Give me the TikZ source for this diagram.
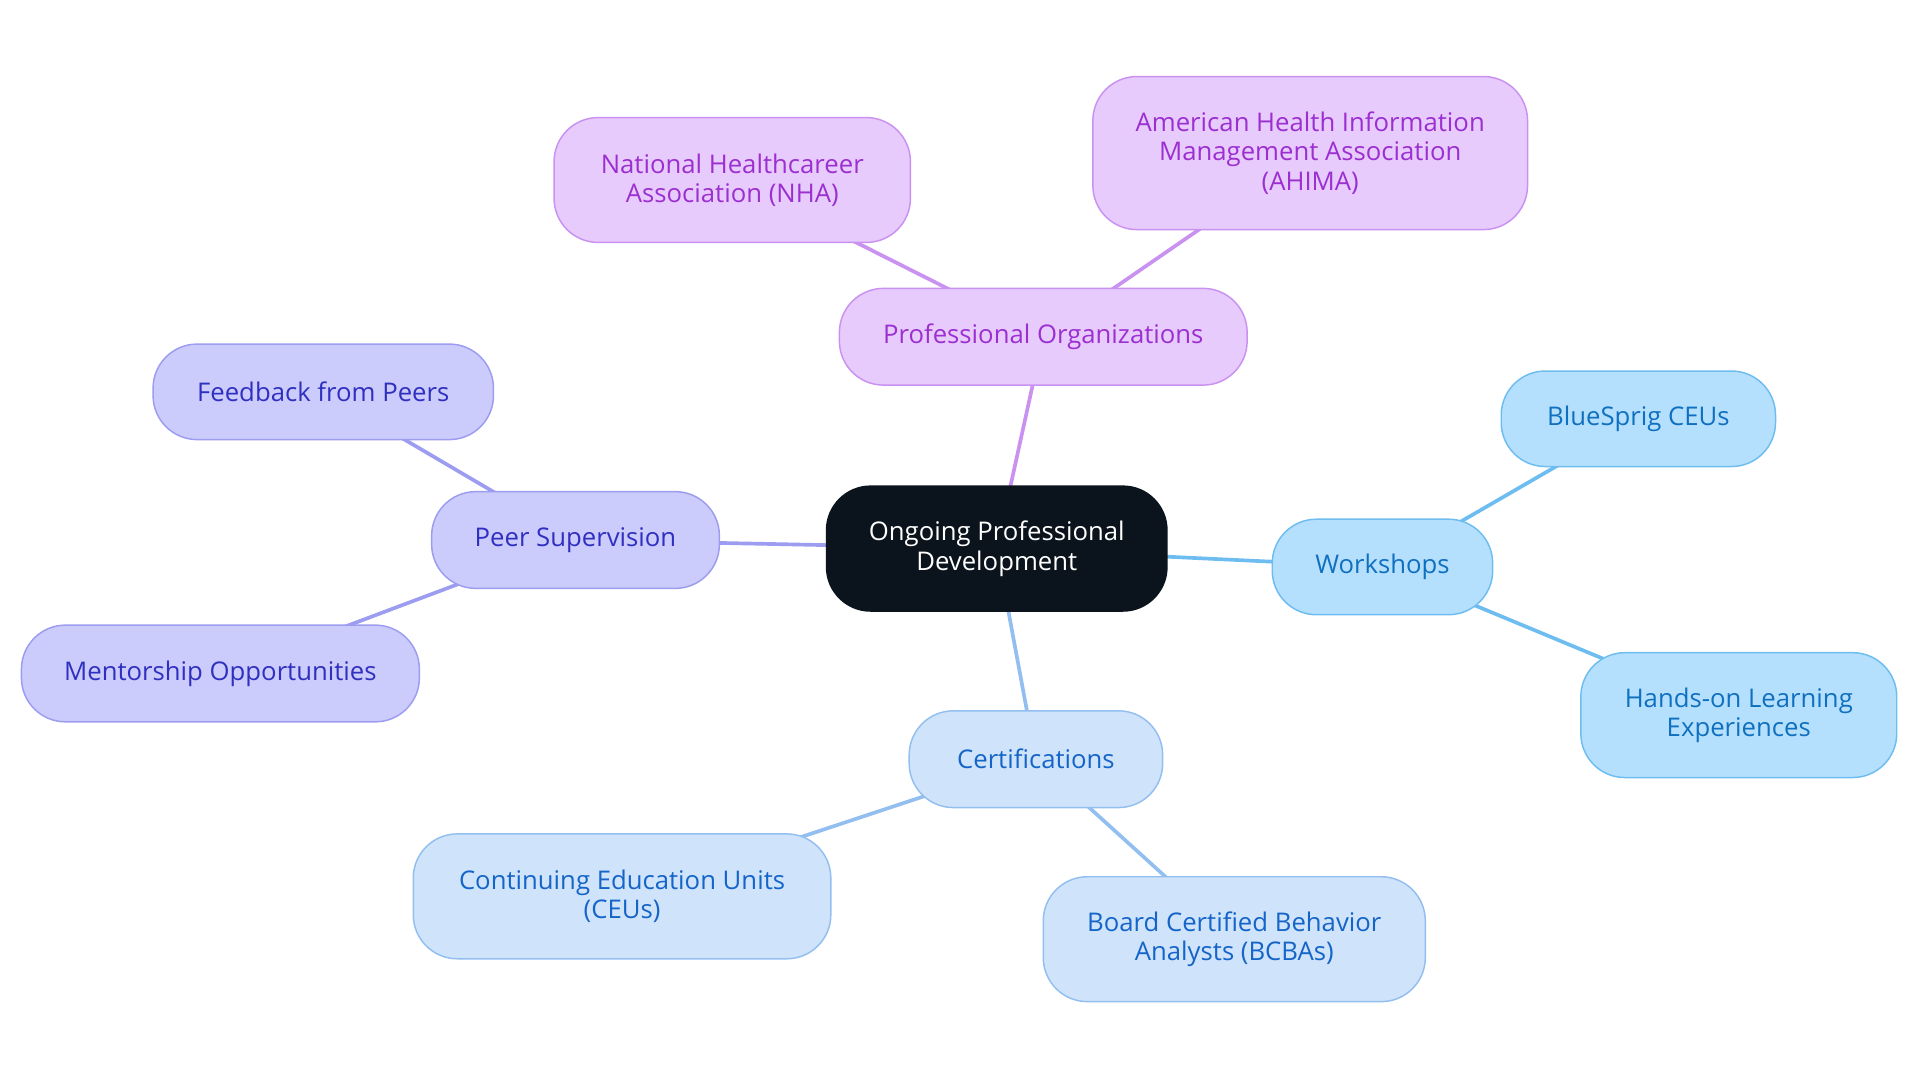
\documentclass[tikz,border=0pt]{standalone}
\usepackage{fontspec}
\setmainfont{Open Sans}
\usetikzlibrary{backgrounds}
\definecolor{cfill}{HTML}{0B131C}
\definecolor{pfill}{HTML}{E8CBFD}\definecolor{pdraw}{HTML}{C992F0}\definecolor{ptext}{HTML}{9B2FD0}
\definecolor{ifill}{HTML}{CBCBFC}\definecolor{idraw}{HTML}{9C9CF0}\definecolor{itext}{HTML}{3030C0}
\definecolor{wfill}{HTML}{B5E0FD}\definecolor{wdraw}{HTML}{6EBDF0}\definecolor{wtext}{HTML}{1070C0}
\definecolor{cfl}{HTML}{CFE3FB}\definecolor{cdr}{HTML}{93BFF0}\definecolor{ctext}{HTML}{1565C8}
\begin{document}
\begin{tikzpicture}[x=1pt,y=-1pt,
 box/.style={rounded corners=36pt,line width=1.2pt,align=center,inner sep=0pt,
   font=\fontsize{21}{24}\selectfont},
 cen/.style={box,fill=cfill,draw=cfill,text=white},
 po/.style={box,fill=pfill,draw=pdraw,text=ptext},
 pe/.style={box,fill=ifill,draw=idraw,text=itext},
 wo/.style={box,fill=wfill,draw=wdraw,text=wtext},
 ce/.style={box,fill=cfl,draw=cdr,text=ctext},
 ed/.style={line width=3pt}]
\useasboundingbox (0,0) rectangle (1568,884);
\node[cen,minimum width=278pt,minimum height=102pt] (c) at (814,448) {Ongoing Professional\\Development};
\node[po,minimum width=333pt,minimum height=79pt] (po) at (852,275) {Professional Organizations};
\node[po,minimum width=291pt,minimum height=102pt] (nha) at (598,147) {National Healthcareer\\Association (NHA)};
\node[po,minimum width=355pt,minimum height=125pt] (ah) at (1070,125) {American Health Information\\Management Association\\(AHIMA)};
\node[pe,minimum width=235pt,minimum height=79pt] (pe) at (470,441) {Peer Supervision};
\node[pe,minimum width=278pt,minimum height=78pt] (fb) at (264,320) {Feedback from Peers};
\node[pe,minimum width=325pt,minimum height=79pt] (me) at (180,550) {Mentorship Opportunities};
\node[wo,minimum width=180pt,minimum height=78pt] (wo) at (1129,463) {Workshops};
\node[wo,minimum width=224pt,minimum height=78pt] (bs) at (1338,342) {BlueSprig CEUs};
\node[wo,minimum width=258pt,minimum height=102pt] (ho) at (1420,584) {Hands-on Learning\\Experiences};
\node[ce,minimum width=207pt,minimum height=79pt] (ce) at (846,620) {Certifications};
\node[ce,minimum width=341pt,minimum height=102pt] (ceu) at (508,732) {Continuing Education Units\\(CEUs)};
\node[ce,minimum width=312pt,minimum height=102pt] (bc) at (1008,767) {Board Certified Behavior\\Analysts (BCBAs)};
\begin{scope}[on background layer]
\draw[ed,pdraw] (c.center)--(po.center) (po.center)--(nha.center) (po.center)--(ah.center);
\draw[ed,idraw] (c.center)--(pe.center) (pe.center)--(fb.center) (pe.center)--(me.center);
\draw[ed,wdraw] (c.center)--(wo.center) (wo.center)--(bs.center) (wo.center)--(ho.center);
\draw[ed,cdr] (c.center)--(ce.center) (ce.center)--(ceu.center) (ce.center)--(bc.center);
\end{scope}
\end{tikzpicture}
\end{document}
